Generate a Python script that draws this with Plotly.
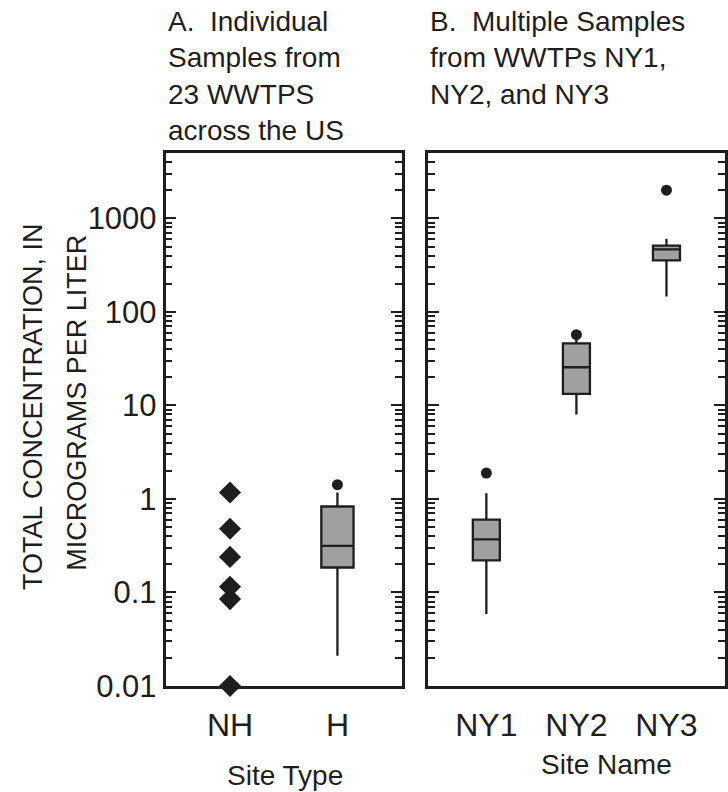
import plotly.graph_objects as go

# ---------------- data ----------------
site_types = ["NH", "H"]
nh_values = [1.17, 0.48, 0.24, 0.115, 0.085, 0.01]          # individual NH samples
h_stats = dict(q1=0.185, median=0.315, q3=0.83, low=0.021, high=1.17)
h_outliers = [1.42]

site_names = ["NY1", "NY2", "NY3"]
ny_q1 = [0.22, 13.3, 355]
ny_median = [0.37, 25.6, 466]
ny_q3 = [0.60, 46, 510]
ny_low = [0.059, 8.0, 146]
ny_high = [1.15, 50, 607]
ny_outliers = [1.89, 57, 2000]

y_tick_vals = [0.01, 0.1, 1, 10, 100, 1000]
y_tick_text = ["0.01", "0.1", "1", "10", "100", "1000"]

# ---------------- geometry ----------------
W, H = 728, 792
T, B = 153, 106
plot_h = H - T - B
FONT = "Liberation Sans, Arial, sans-serif"
INK = "#1e1e1e"
BOXFILL = "#a0a0a0"
Y_RANGE = [-2, 3.699]


def px_x(x):
    return x / W


def px_y(y):
    return (H - B - y) / plot_h


fig = go.Figure()

# Panel A
fig.add_trace(go.Scatter(
    x=["NH"] * len(nh_values), y=nh_values, mode="markers", cliponaxis=False,
    marker=dict(symbol="diamond", size=17, color=INK), xaxis="x", yaxis="y",
))
fig.add_trace(go.Box(
    x=["H"], q1=[h_stats["q1"]], median=[h_stats["median"]], q3=[h_stats["q3"]],
    lowerfence=[h_stats["low"]], upperfence=[h_stats["high"]],
    boxpoints=False, width=0.3, whiskerwidth=0,
    fillcolor=BOXFILL, line=dict(color=INK, width=2.3), xaxis="x", yaxis="y",
))
fig.add_trace(go.Scatter(
    x=["H"] * len(h_outliers), y=h_outliers, mode="markers", cliponaxis=False,
    marker=dict(symbol="circle", size=11, color=INK), xaxis="x", yaxis="y",
))

# Panel B
fig.add_trace(go.Box(
    x=site_names, q1=ny_q1, median=ny_median, q3=ny_q3,
    lowerfence=ny_low, upperfence=ny_high,
    boxpoints=False, width=0.3, whiskerwidth=0,
    fillcolor=BOXFILL, line=dict(color=INK, width=2.3), xaxis="x2", yaxis="y2",
))
fig.add_trace(go.Scatter(
    x=site_names, y=ny_outliers, mode="markers", cliponaxis=False,
    marker=dict(symbol="circle", size=11, color=INK), xaxis="x2", yaxis="y2",
))

axis_common = dict(showline=True, linecolor=INK, linewidth=2.5, showgrid=False, zeroline=False)
minor_ticks = dict(ticks="inside", ticklen=7, tickwidth=1.6, tickcolor=INK, dtick="D1", showgrid=False)

fig.update_layout(
    width=W, height=H,
    margin=dict(l=0, r=0, t=T, b=B),
    paper_bgcolor="white", plot_bgcolor="white",
    showlegend=False,
    font=dict(family=FONT, color=INK),
    xaxis=dict(domain=[px_x(166), px_x(403)], anchor="y", type="category",
               categoryorder="array", categoryarray=site_types, range=[-0.6, 1.6],
               mirror=True, ticks="", tickfont=dict(size=32), ticklabelstandoff=9,
               **axis_common),
    xaxis2=dict(domain=[px_x(429), px_x(727)], anchor="y2", type="category",
                categoryorder="array", categoryarray=site_names, range=[-0.65, 2.65],
                mirror=True, ticks="", tickfont=dict(size=32), ticklabelstandoff=9,
                **axis_common),
    yaxis=dict(anchor="x", type="log", range=Y_RANGE, tickmode="array",
               tickvals=y_tick_vals, ticktext=y_tick_text, tickfont=dict(size=31),
               ticks="inside", ticklen=11, tickwidth=2, tickcolor=INK, mirror="ticks",
               minor=minor_ticks, **axis_common),
    yaxis2=dict(anchor="x2", type="log", range=Y_RANGE, tickmode="linear", tick0=0, dtick=1,
                showticklabels=False,
                ticks="inside", ticklen=11, tickwidth=2, tickcolor=INK, mirror="ticks",
                minor=minor_ticks, **axis_common),
)

annotations = [
    dict(text="A.  Individual<br>Samples from<br>23 WWTPS<br>across the US",
         x=px_x(166), y=px_y(4), xanchor="left", yanchor="top", align="left",
         font=dict(size=28)),
    dict(text="B.  Multiple Samples<br>from WWTPs NY1,<br>NY2, and NY3",
         x=px_x(429), y=px_y(4), xanchor="left", yanchor="top", align="left",
         font=dict(size=28)),
    dict(text="TOTAL CONCENTRATION, IN", x=px_x(33), y=px_y(406), textangle=-90,
         xanchor="center", yanchor="middle", font=dict(size=27)),
    dict(text="MICROGRAMS PER LITER", x=px_x(77), y=px_y(403), textangle=-90,
         xanchor="center", yanchor="middle", font=dict(size=27)),
    dict(text="Site Type", x=px_x(286), y=px_y(776), xanchor="center", yanchor="middle",
         font=dict(size=28)),
    dict(text="Site Name", x=px_x(608), y=px_y(764), xanchor="center", yanchor="middle",
         font=dict(size=28)),
]
for a in annotations:
    a.update(xref="paper", yref="paper", showarrow=False)
fig.update_layout(annotations=annotations)

fig.write_html("out.html")
